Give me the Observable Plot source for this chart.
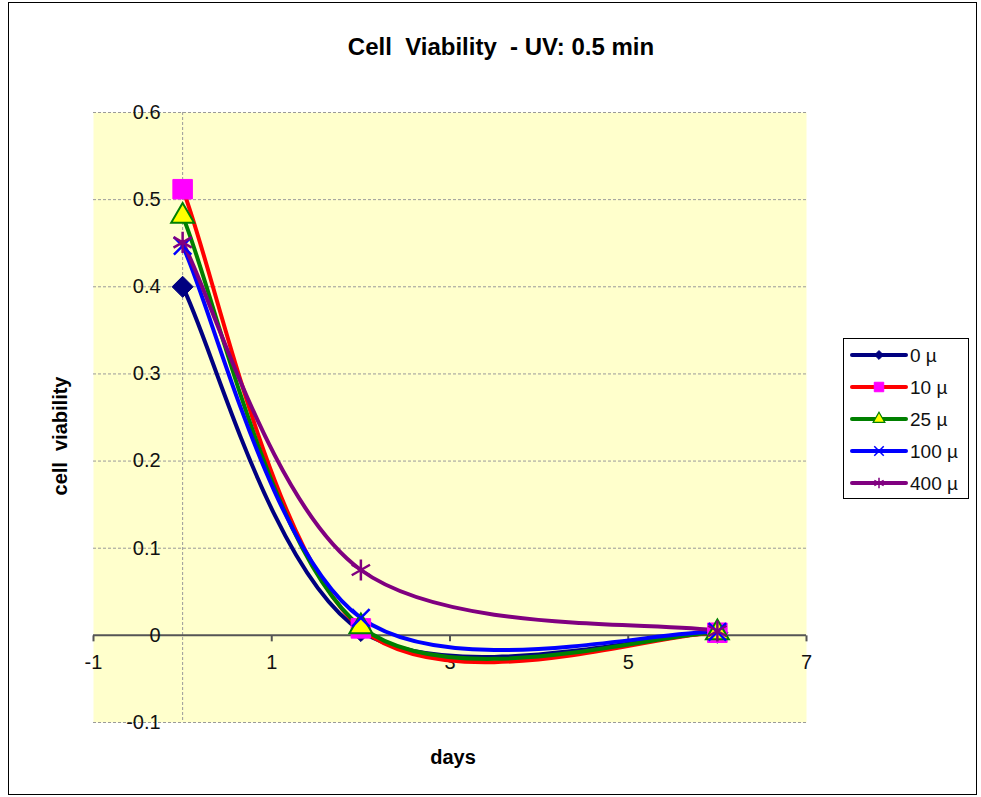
<!DOCTYPE html>
<html>
<head>
<meta charset="utf-8">
<script src="https://cdn.jsdelivr.net/npm/d3@7"></script>
<script src="https://cdn.jsdelivr.net/npm/@observablehq/plot@0.6"></script>
<style>
  html, body { margin: 0; padding: 0; background: #fff; }
  #wrap { position: relative; width: 981px; height: 797px; font-family: "Liberation Sans", Arial, sans-serif; }
  #border { position: absolute; left: 8px; top: 2px; width: 969px; height: 793px; border: 1px solid #000; box-sizing: border-box; }
  #title { position: absolute; left: 0; width: 1002px; top: 33px; text-align: center; font-weight: bold; font-size: 24px; white-space: pre; color: #000; }
  #ylab { position: absolute; left: 60px; top: 436px; transform: translate(-50%, -50%) rotate(-90deg); font-weight: bold; font-size: 20px; white-space: pre; }
  #xlab { position: absolute; left: 453px; top: 757px; transform: translate(-50%, -50%); font-weight: bold; font-size: 20px; }
  #legend { position: absolute; left: 843px; top: 338px; width: 126px; height: 161px; border: 1px solid #000; box-sizing: border-box; background: #fff; }
  #chart { position: absolute; left: 0; top: 0; }
</style>
</head>
<body>
<div id="wrap">
  <div id="chart"></div>
  <div id="border"></div>
  <div id="title">Cell  Viability  - UV: 0.5 min</div>
  <div id="ylab">cell  viability</div>
  <div id="xlab">days</div>
  <div id="legend"></div>
</div>
<script>
// ---- data ----
const days = [0, 2, 6];
const seriesNames = ["0 µ", "10 µ", "25 µ", "100 µ", "400 µ"];
const v0   = [0.400, 0.005, 0.003];
const v10  = [0.512, 0.008, 0.003];
const v25  = [0.481, 0.010, 0.003];
const v100 = [0.447, 0.020, 0.004];
const v400 = [0.451, 0.075, 0.005];
const seriesValues = [v0, v10, v25, v100, v400];
const xTicks = [-1, 1, 3, 5, 7];
const yTicks = [-0.1, 0, 0.1, 0.2, 0.3, 0.4, 0.5, 0.6];

// ---- styles ----
const lineColors = ["#000080", "#FF0000", "#008000", "#0000FF", "#800080"];
const markerFill = ["#000080", "#FF00FF", "#FFFF00", "none", "none"];
const markerStroke = ["#000080", "#FF00FF", "#008000", "#0000FF", "#800080"];
const markerSym = ["diamond2", "square", "triangle", "times", "asterisk"];
const markerR = [9.5, 11, 8.5, 8, 10];
const markerSW = [1, 1, 2, 2.5, 2.5];

const rows = seriesValues.map((vals, s) => days.map((d, i) => ({series: seriesNames[s], day: d, v: vals[i]})));

// Spreadsheet-style smoothed line: Bezier segments, control points at ±1/6 of neighbour chord, endpoints duplicated
function smoothCurve(context) {
  let pts = [];
  return {
    areaStart() {}, areaEnd() {},
    lineStart() { pts = []; },
    point(x, y) { pts.push([+x, +y]); },
    lineEnd() {
      const n = pts.length;
      if (!n) return;
      context.moveTo(pts[0][0], pts[0][1]);
      for (let i = 0; i < n - 1; i++) {
        const p0 = pts[Math.max(i - 1, 0)], p1 = pts[i], p2 = pts[i + 1], p3 = pts[Math.min(i + 2, n - 1)];
        context.bezierCurveTo(
          p1[0] + (p2[0] - p0[0]) / 6, p1[1] + (p2[1] - p0[1]) / 6,
          p2[0] - (p3[0] - p1[0]) / 6, p2[1] - (p3[1] - p1[1]) / 6,
          p2[0], p2[1]);
      }
    }
  };
}

const tickSym = { draw(ctx, size) { ctx.moveTo(0, 0); ctx.lineTo(0, 6); } };

const marks = [
  Plot.frame({fill: "#FFFFCC", stroke: null}),
  Plot.ruleY(yTicks.filter(d => d !== 0), {y: d => d, stroke: "#9a9a9a", strokeWidth: 1, strokeDasharray: "3,2"}),
  Plot.ruleX([0], {x: d => d, stroke: "#9a9a9a", strokeWidth: 1, strokeDasharray: "3,2"}),
  Plot.ruleY([0], {y: d => d, stroke: "#555555", strokeWidth: 2}),
  Plot.dot(xTicks, {x: d => d, y: () => 0, symbol: tickSym, r: 3, stroke: "#555555", strokeWidth: 2, fill: "none"}),
  Plot.text(xTicks, {x: d => d, y: () => 0, dy: 27, text: d => String(d), fontSize: 20, fill: "#111", fontFamily: "Liberation Sans, Arial"}),
  Plot.text(yTicks, {x: () => 0, y: d => d, dx: -22, textAnchor: "end", text: d => String(d), fontSize: 20, fill: "#111", fontFamily: "Liberation Sans, Arial"})
];

rows.forEach((data, s) => {
  marks.push(Plot.line(data, {x: "day", y: "v", curve: smoothCurve, stroke: lineColors[s], strokeWidth: 4, strokeLinecap: "round", strokeLinejoin: "round"}));
});
rows.forEach((data, s) => {
  marks.push(Plot.dot(data, {x: "day", y: "v", symbol: markerSym[s], r: markerR[s], fill: markerFill[s], stroke: markerStroke[s], strokeWidth: markerSW[s]}));
});

const chart = Plot.plot({
  width: 981,
  height: 797,
  marginLeft: 93,
  marginRight: 175,
  marginTop: 112,
  marginBottom: 75,
  x: {domain: [-1, 7], axis: null},
  y: {domain: [-0.1, 0.6], axis: null},
  style: {fontFamily: "Liberation Sans, Arial, sans-serif", fontSize: "20px", background: "transparent"},
  marks
});
document.getElementById("chart").appendChild(chart);

// ---- legend ----
const leg = d3.select("#legend").append("svg").attr("width", 124).attr("height", 159)
  .style("font-family", "Liberation Sans, Arial, sans-serif");
const symMap = {diamond2: d3.symbolDiamond2, square: d3.symbolSquare, triangle: d3.symbolTriangle, times: d3.symbolTimes, asterisk: d3.symbolAsterisk};
const legSize = [50, 90, 60, 60, 80];
seriesNames.forEach((name, s) => {
  const y = 16 + s * 32;
  const g = leg.append("g");
  g.append("line").attr("x1", 8).attr("x2", 62).attr("y1", y).attr("y2", y)
    .attr("stroke", lineColors[s]).attr("stroke-width", 4).attr("stroke-linecap", "round");
  g.append("path").attr("transform", `translate(35,${y})`)
    .attr("d", d3.symbol(symMap[markerSym[s]], legSize[s])())
    .attr("fill", markerFill[s]).attr("stroke", markerStroke[s]).attr("stroke-width", s === 2 ? 1.2 : (s >= 3 ? 1.5 : 1));
  g.append("text").attr("x", 66).attr("y", y).attr("dy", "0.35em").attr("font-size", 19).attr("fill", "#111").text(name);
});
</script>
</body>
</html>
